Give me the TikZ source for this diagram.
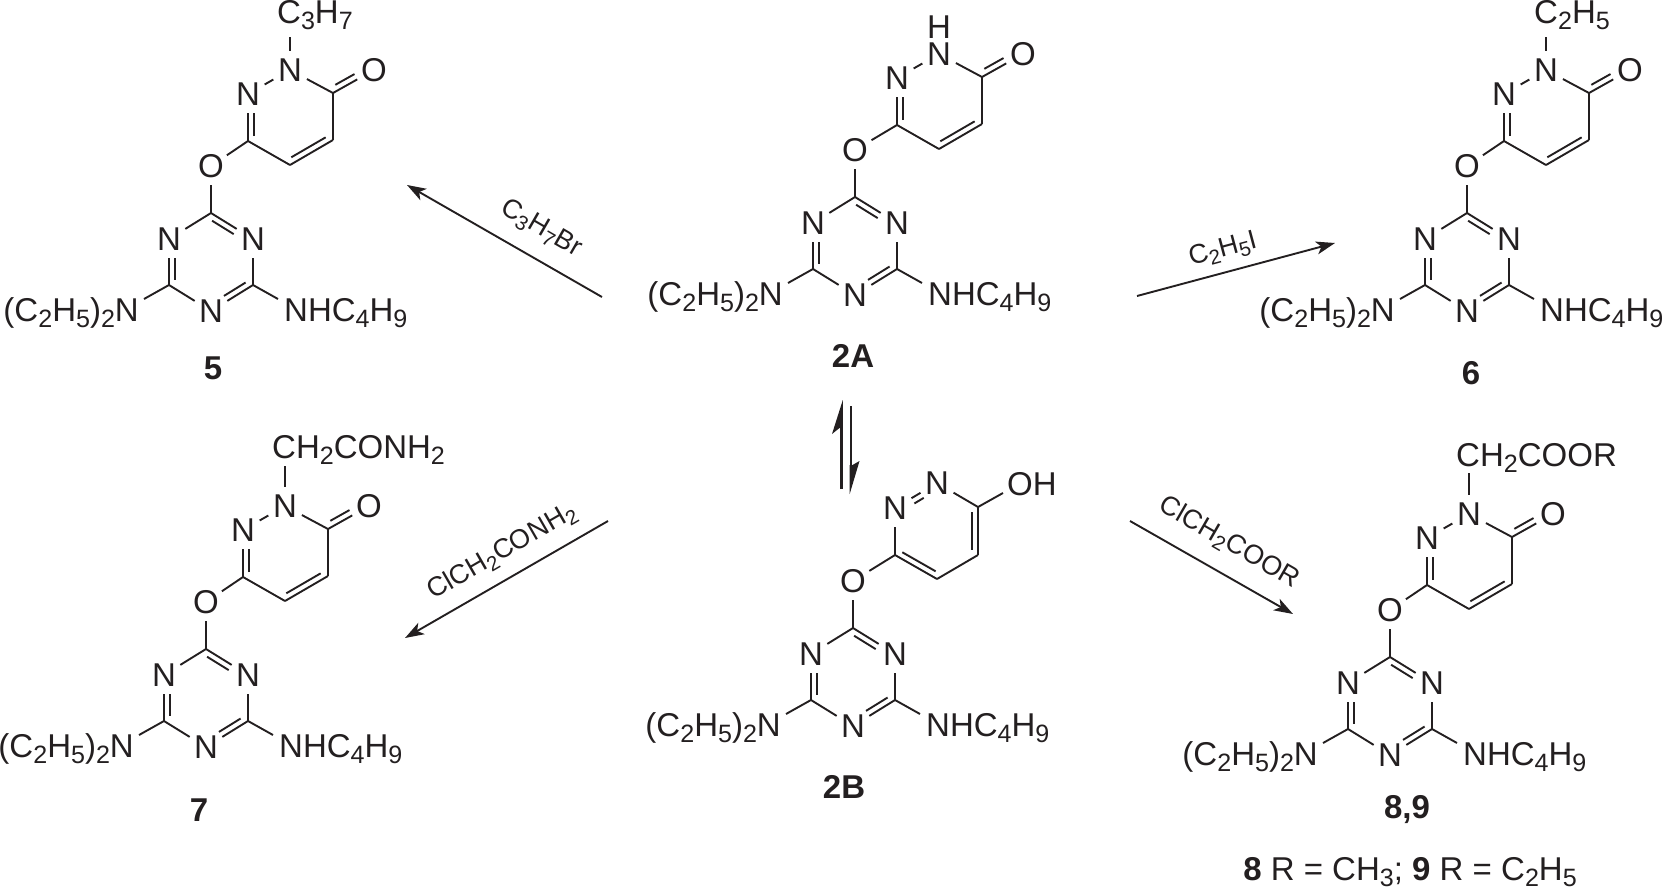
\documentclass[tikz,border=0pt]{standalone}
\usepackage{fontspec}
\setmainfont{Liberation Sans}
\usetikzlibrary{calc,arrows.meta}
\definecolor{ink}{HTML}{231F20}
\newcommand{\dn}[1]{\raisebox{-0.2em}{\scalebox{0.76}{#1}}}
\newcommand{\atomsz}{\fontsize{33}{33}\selectfont}
\newcommand{\reagsz}{\fontsize{27}{27}\selectfont}
\tikzset{
  atom/.style={circle,inner sep=0pt,minimum size=38pt,text=ink,font=\atomsz},
  lab/.style={inner sep=0pt,text=ink,font=\atomsz},
  cpd/.style={inner sep=0pt,text=ink,font=\atomsz\bfseries},
  rgt/.style={inner sep=0pt,text=ink,font=\reagsz},
  bond/.style={draw=ink,line width=1.9pt},
  rxn/.style={draw=ink,line width=1.9pt,-{Stealth[length=19pt,width=13pt,inset=5pt]}},
  eq/.style={draw=ink,line width=2.6pt}
}
% double bond: a, b, side angle, shorten at a, shorten at b
\newcommand{\dbl}[5]{%
  \draw[bond] (#1) -- (#2);
  \draw[bond,shorten <=#4pt,shorten >=#5pt] ($(#1)!6pt!#3:(#2)$) -- ($(#2)!6pt!#3+180:(#1)$);
}
\newcommand{\triaz}[1]{%
  \coordinate (#1c0) at (0,0);
  \coordinate (#1cl) at (-42,72);
  \coordinate (#1cr) at (42,72);
  \node[atom] (#1t1) at (-42,26) {N};
  \node[atom] (#1t2) at (42,26) {N};
  \node[atom] (#1t3) at (0,98) {N};
  \node[atom] (#1o) at (0,-47) {O};
  \node[lab,anchor=base east] (#1ne) at (-72,108) {(C\dn{2}H\dn{5})\dn{2}N};
  \node[lab,anchor=base west] (#1nh) at (73,108) {NHC\dn{4}H\dn{9}};
  \coordinate (#1neb) at (-67,86);
  \coordinate (#1nhb) at (67,86);
  \draw[bond] (#1o) -- (#1c0);
  \draw[bond] (#1c0) -- (#1t1);
  \dbl{#1c0}{#1t2}{-90}{5}{19}
  \dbl{#1t1}{#1cl}{90}{19}{5}
  \draw[bond] (#1cl) -- (#1t3);
  \dbl{#1cr}{#1t3}{-90}{5}{19}
  \draw[bond] (#1cr) -- (#1t2);
  \draw[bond] (#1cl) -- (#1neb);
  \draw[bond] (#1cr) -- (#1nhb);
}
% pyridazinone ring: prefix, dx
\newcommand{\ring}[2]{%
  \coordinate (#1c6) at (42+#2,-72);
  \coordinate (#1co) at (127+#2,-120);
  \coordinate (#1h1) at (127+#2,-73);
  \coordinate (#1h2) at (84+#2,-48);
  \node[atom] (#1n1) at (42+#2,-119) {N};
  \node[atom] (#1n2) at (84+#2,-143) {N};
  \draw[bond] (#1o) -- (#1c6);
  \dbl{#1c6}{#1n1}{-90}{5}{19}
  \draw[bond] (#1n1) -- (#1n2);
  \draw[bond] (#1n2) -- (#1co);
  \draw[bond] (#1co) -- (#1h1);
  \dbl{#1h1}{#1h2}{-90}{5}{5}
  \draw[bond] (#1h2) -- (#1c6);
  \node[atom] (#1ox) at (168+#2,-143) {O};
  \dbl{#1co}{#1ox}{90}{6}{19}
}
% N substituent: prefix, x of N, top of bond, text x, text y, text
\newcommand{\sbst}[6]{%
  \coordinate (#1st) at (#2,#3);
  \node[lab,anchor=base west] (#1sl) at (#4,#5) {#6};
  \draw[bond] (#1n2) -- (#1st);
}
\begin{document}
\begin{tikzpicture}[x=1pt,y=-1pt]
\useasboundingbox (0,0) rectangle (1662,889);
% 2A
\begin{scope}[shift={(855,197)}]
  \triaz{a}\ring{a}{0}
  \node[lab] (aH) at (84,-170) {H};
  \node[cpd] (al) at (-2,159) {2A};
\end{scope}
% 5
\begin{scope}[shift={(211,213)}]
  \triaz{e}\ring{e}{-5}
  \sbst{e}{79}{-176}{66}{-190}{C\dn{3}H\dn{7}}
  \node[cpd] (el) at (2,155) {5};
\end{scope}
% 6
\begin{scope}[shift={(1467,213)}]
  \triaz{f}\ring{f}{-5}
  \sbst{f}{79}{-176}{67}{-190}{C\dn{2}H\dn{5}}
  \node[cpd] (fl) at (4,160) {6};
\end{scope}
% 7
\begin{scope}[shift={(206,649)}]
  \triaz{g}\ring{g}{-5}
  \sbst{g}{79}{-183}{66}{-191}{CH\dn{2}CONH\dn{2}}
  \node[cpd] (gl) at (-7,161) {7};
\end{scope}
% 8,9
\begin{scope}[shift={(1390,657)}]
  \triaz{h}\ring{h}{-5}
  \sbst{h}{79}{-184}{66}{-191}{CH\dn{2}COOR}
  \node[cpd] (hl) at (17,153) {8,9};
\end{scope}
\node[lab,anchor=base] (hn) at (1410,880) {\textbf{8} R = CH\dn{3}; \textbf{9} R = C\dn{2}H\dn{5}};
% 2B
\begin{scope}[shift={(853,628)}]
  \triaz{b}
  \coordinate (bc6) at (42,-73);
  \coordinate (bco) at (125,-121);
  \coordinate (bh1) at (125,-73);
  \coordinate (bh2) at (84,-49);
  \node[atom] (bn1) at (42,-120) {N};
  \node[atom] (bn2) at (84,-145) {N};
  \node[lab,anchor=base west] (boh) at (154,-133) {OH};
  \coordinate (bohb) at (150,-135);
  \draw[bond] (bo) -- (bc6);
  \draw[bond] (bc6) -- (bn1);
  \dbl{bn1}{bn2}{-90}{19}{19}
  \draw[bond] (bn2) -- (bco);
  \draw[bond] (bco) -- (bohb);
  \dbl{bco}{bh1}{-90}{5}{5}
  \draw[bond] (bh1) -- (bh2);
  \dbl{bh2}{bc6}{-90}{5}{5}
  \node[cpd] (bl) at (-9,159) {2B};
\end{scope}
% equilibrium arrows
\coordinate (ea0) at (841.5,489);
\coordinate (ea1) at (841.5,420);
\coordinate (eaTip) at (842.8,400);
\coordinate (eaBarb) at (832,434);
\coordinate (eaNotch) at (839.5,428);
\coordinate (eaEdge) at (842.8,428);
\coordinate (eb0) at (851,406);
\coordinate (eb1) at (851,470);
\coordinate (ebTip) at (849.7,494);
\coordinate (ebBarb) at (859.5,461);
\coordinate (ebNotch) at (852.5,465);
\coordinate (ebEdge) at (849.7,465);
\draw[eq] (ea0) -- (ea1);
\fill[ink] (eaTip) -- (eaBarb) -- (eaNotch) -- (eaEdge) -- cycle;
\draw[eq] (eb0) -- (eb1);
\fill[ink] (ebTip) -- (ebBarb) -- (ebNotch) -- (ebEdge) -- cycle;
% reaction arrows
\coordinate (r1a) at (602,297); \coordinate (r1b) at (407,185);
\coordinate (r2a) at (608,521); \coordinate (r2b) at (405,638);
\coordinate (r3a) at (1137,296); \coordinate (r3b) at (1335,243);
\coordinate (r4a) at (1130,521); \coordinate (r4b) at (1293,614);
\draw[rxn] (r1a) -- (r1b);
\draw[rxn] (r2a) -- (r2b);
\draw[rxn] (r3a) -- (r3b);
\draw[rxn] (r4a) -- (r4b);
\node[rgt,rotate=-30] (r1l) at (541,229) {C\dn{3}H\dn{7}Br};
\node[rgt,rotate=30] (r2l) at (502,552) {ClCH\dn{2}CONH\dn{2}};
\node[rgt,rotate=15] (r3l) at (1223,250) {C\dn{2}H\dn{5}I};
\node[rgt,rotate=-30] (r4l) at (1229,543) {ClCH\dn{2}COOR};
\end{tikzpicture}
\end{document}
